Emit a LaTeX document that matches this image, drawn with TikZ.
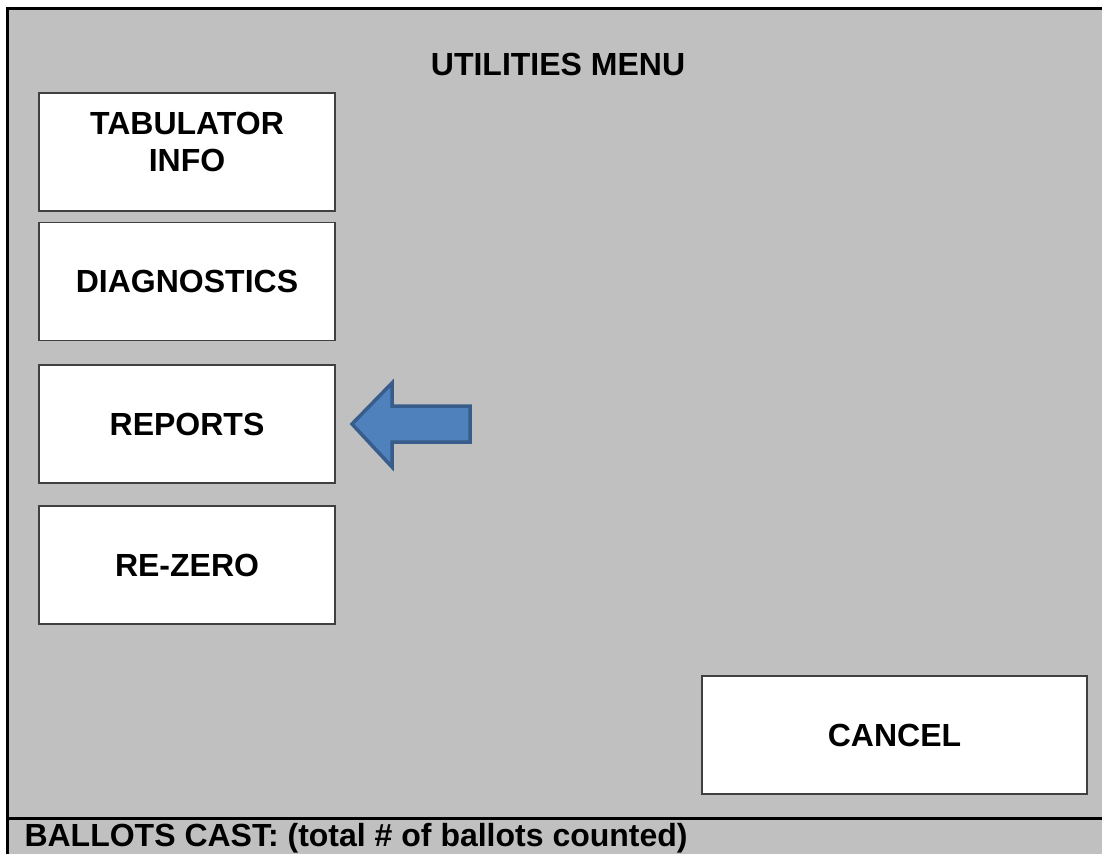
\documentclass[tikz,border=0pt]{standalone}
\usepackage{fontspec}
\setmainfont{Liberation Sans}
\definecolor{screengray}{HTML}{C0C0C0}
\definecolor{arrowblue}{HTML}{4F81BD}
\definecolor{arrowedge}{HTML}{385D8A}
\tikzset{
  menubutton/.style={draw=black!75, line width=1.2pt, fill=white,
    minimum width=296pt, minimum height=118pt, align=center,
    font=\fontsize{32}{37}\selectfont\bfseries},
  menutext/.style={font=\fontsize{32}{37}\selectfont\bfseries}
}
\begin{document}
\begin{tikzpicture}[x=1pt, y=-1pt]
  \useasboundingbox (0,0) rectangle (1102,854);

  % screen background
  \fill[screengray] (7,8) rectangle (1102,854);
  \draw[line width=3pt] (7.5,854) -- (7.5,8) -- (1102,8);
  \draw[line width=3pt] (7,818) -- (1102,818);

  \node[menutext] (title) at (558,64) {UTILITIES MENU};

  % buttons on the left
  \node[menubutton] (tabinfo) at (187,152) {};
  \node[menutext, align=center] (tabinfolbl) at ([yshift=10.5pt]tabinfo.center)
    {TABULATOR\\INFO};
  \node[menubutton] (diag) at (187,281.5) {DIAGNOSTICS};
  \node[menubutton] (reports) at (187,424) {REPORTS};
  \node[menubutton] (rezero) at (187,565) {RE-ZERO};

  \node[menubutton, minimum width=385pt] (cancel) at (894.5,735) {CANCEL};

  % pointer to REPORTS
  \draw[arrowedge, fill=arrowblue, line width=3.5pt, line join=miter]
    (352,424) -- (392,383) -- (392,406) -- (470,406) -- (470,442)
    -- (392,442) -- (392,467) -- cycle;

  \node[menutext, anchor=base west] (ballots) at (21,846)
    {BALLOTS CAST: (total \# of ballots counted)};
\end{tikzpicture}
\end{document}
